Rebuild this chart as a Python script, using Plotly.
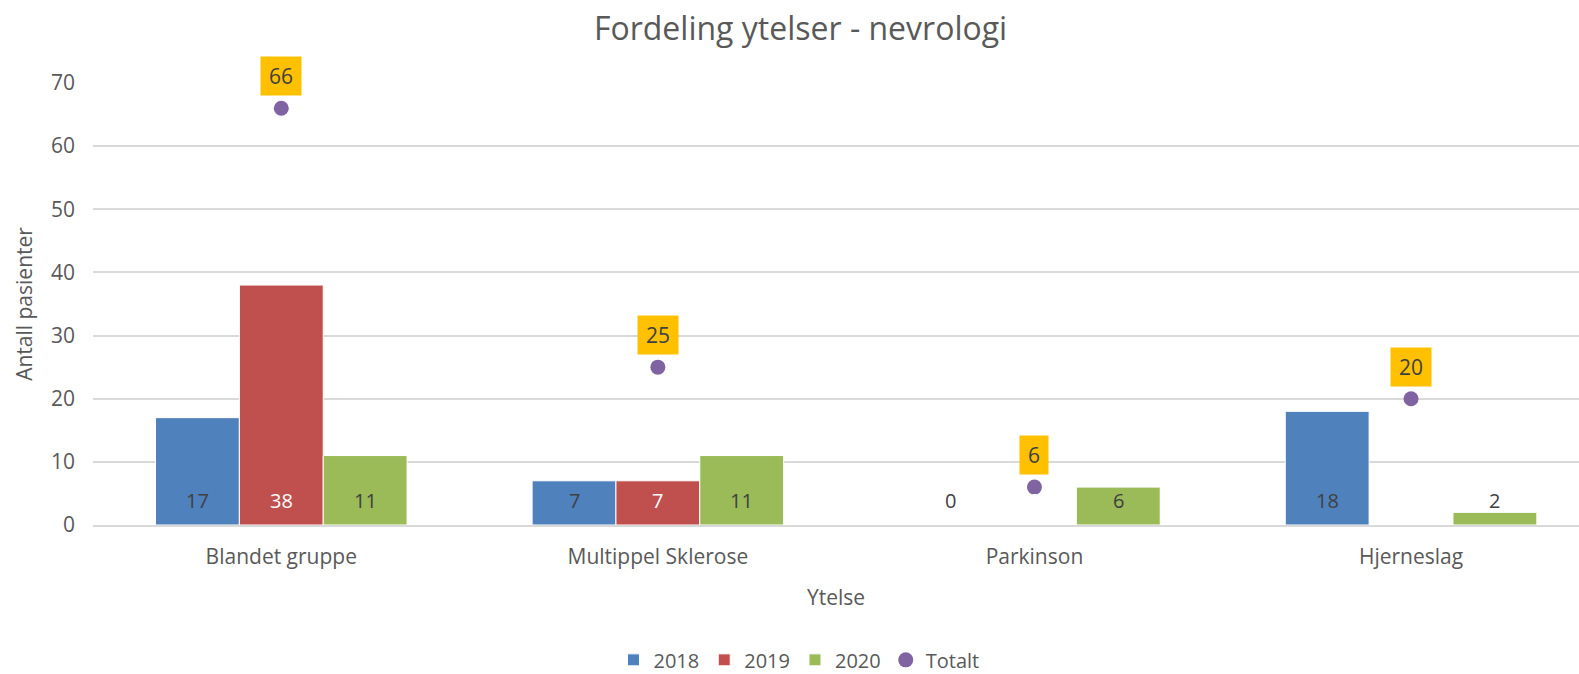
import plotly.graph_objects as go

categories = ["Blandet gruppe", "Multippel Sklerose", "Parkinson", "Hjerneslag"]
v2018 = [17, 7, 0, 18]
v2019 = [38, 7, 0, None]
v2020 = [11, 11, 6, 2]
totalt = [66, 25, 6, 20]
yticks = [0, 10, 20, 30, 40, 50, 60, 70]

FONT = "'Open Sans', sans-serif"
TXT = "#595959"
LBL = "#404040"

series = [("2018", v2018, "#4F81BD", LBL),
          ("2019", v2019, "#C0504D", "#FFFFFF"),
          ("2020", v2020, "#9BBB59", LBL)]

fig = go.Figure()
for name, vals, col, _ in series:
    fig.add_trace(go.Bar(name=name, x=categories, y=vals,
                         marker=dict(color=col, line=dict(color="white", width=1))))
fig.add_trace(go.Scatter(name="Totalt", x=categories, y=totalt, mode="markers",
                         marker=dict(color="#8064A2", size=15)))

bargap = 0.332
bw = (1 - bargap) / 3
ann = []
for si, (name, vals, col, tc) in enumerate(series):
    for ci, v in enumerate(vals):
        if v is None:
            continue
        ann.append(dict(x=ci + (si - 1) * bw, y=0, xref="x", yref="y", text=str(v), showarrow=False,
                        yanchor="middle", yshift=25, font=dict(family=FONT, size=20, color=tc)))
for ci, v in enumerate(totalt):
    ann.append(dict(x=ci, y=v, xref="x", yref="y", text=str(v), showarrow=False, yanchor="middle",
                    yshift=32, bgcolor="#FFC000", borderpad=8, height=22,
                    font=dict(family=FONT, size=21, color=LBL)))

fig.update_layout(
    width=1579, height=674, barmode="group", bargap=bargap, bargroupgap=0,
    plot_bgcolor="white", paper_bgcolor="white",
    margin=dict(l=93, r=0, t=83, b=149),
    font=dict(family=FONT, color=TXT),
    title=dict(text="Fordeling ytelser - nevrologi", x=0.507, xanchor="center", y=0.957, yanchor="middle",
               font=dict(family=FONT, size=32, color=TXT)),
    legend=dict(orientation="h", xref="container", yref="container", x=0.506, xanchor="center",
                y=0.021, yanchor="middle",
                font=dict(family=FONT, size=20, color=TXT), itemwidth=30, traceorder="normal"),
    annotations=ann,
    xaxis=dict(range=[-0.5, 3.446], showgrid=False, ticks="", ticklabelstandoff=12, automargin=False,
               tickfont=dict(family=FONT, size=21, color=TXT),
               title=dict(text="Ytelse", standoff=21, font=dict(family=FONT, size=21, color=TXT)),
               showline=True, linecolor="#D9D9D9", linewidth=1.5),
    yaxis=dict(range=[0, 70], tickvals=yticks, gridcolor="#D9D9D9", gridwidth=1.5, zeroline=False,
               ticklabelstandoff=17, automargin=False, tickfont=dict(family=FONT, size=21, color=TXT),
               title=dict(text="Antall pasienter", standoff=12, font=dict(family=FONT, size=21, color=TXT))),
)
fig.write_html("out.html", config={"displayModeBar": False},
               post_script="document.body.style.margin='0';document.body.style.overflow='hidden';")
